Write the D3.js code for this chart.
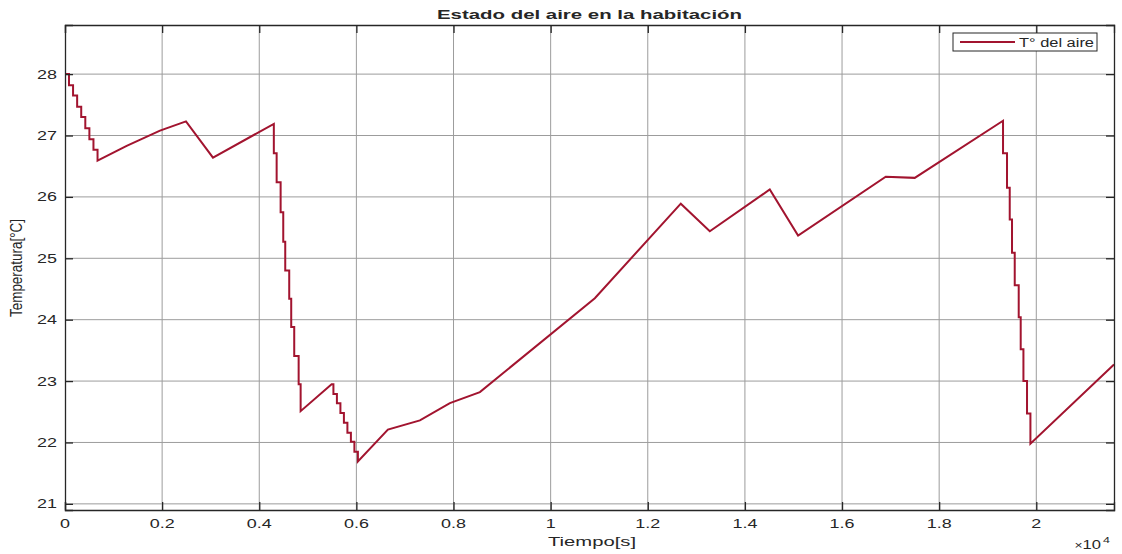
<!DOCTYPE html>
<html>
<head>
<meta charset="utf-8">
<script src="https://cdn.jsdelivr.net/npm/d3@7"></script>
<style>
  html, body { margin: 0; padding: 0; background: #fff; }
  svg { display: block; }
  text { font-family: "Liberation Sans", Arial, Helvetica, sans-serif; fill: #262626; }
</style>
</head>
<body>
<svg id="chart" width="1122" height="554"></svg>
<script>
// Air temperature in the room over time (s); vertices of the simulated trace.
const timeS = [
  0, 82, 82, 166, 166, 250, 250, 334, 334, 418, 418, 502, 502, 586, 586, 670, 670,
  1270, 1956, 2491, 3047, 4300,
  4300, 4358, 4358, 4440, 4440, 4494, 4494, 4535, 4535, 4617, 4617, 4658, 4658, 4720, 4720, 4811, 4811, 4852, 4852,
  5490,
  5527, 5527, 5599, 5599, 5671, 5671, 5743, 5743, 5815, 5815, 5887, 5887, 5959, 5959, 6031, 6031,
  6649, 7308, 7925, 8543, 10910, 12680, 13277, 14512, 15095, 16900, 17497, 19315,
  19315, 19397, 19397, 19453, 19453, 19500, 19500, 19556, 19556, 19638, 19638, 19679, 19679, 19735, 19735, 19809, 19809, 19879, 19879,
  21600
];
const tempC = [
  28.00, 28.00, 27.82, 27.82, 27.65, 27.65, 27.47, 27.47, 27.30, 27.30, 27.12, 27.12, 26.94, 26.94, 26.77, 26.77, 26.59,
  26.83, 27.08, 27.23, 26.64, 27.19,
  26.71, 26.71, 26.24, 26.24, 25.75, 25.75, 25.27, 25.27, 24.80, 24.80, 24.34, 24.34, 23.88, 23.88, 23.41, 23.41, 22.95, 22.95, 22.51,
  22.95,
  22.95, 22.79, 22.79, 22.64, 22.64, 22.48, 22.48, 22.32, 22.32, 22.16, 22.16, 22.01, 22.01, 21.85, 21.85, 21.69,
  22.21, 22.36, 22.64, 22.82, 24.35, 25.89, 25.44, 26.12, 25.37, 26.33, 26.31, 27.24,
  26.71, 26.71, 26.15, 26.15, 25.63, 25.63, 25.09, 25.09, 24.56, 24.56, 24.04, 24.04, 23.52, 23.52, 23.00, 23.00, 22.47, 22.47, 21.98,
  23.27
];
const xTicks = [0, 2000, 4000, 6000, 8000, 10000, 12000, 14000, 16000, 18000, 20000];
const yTicks = [21, 22, 23, 24, 25, 26, 27, 28];
const xDomain = [0, 21600];
const yDomain = [20.9, 28.8];
const seriesName = "T° del aire";
const titleText = "Estado del aire en la habitación";
const xLabel = "Tiempo[s]";
const yLabel = "Temperatura[°C]";

const data = timeS.map((t, i) => ({ t, T: tempC[i] }));

const svg = d3.select("#chart");
const plotL = 65, plotR = 1114, plotT = 25, plotB = 510;
const stretch = 1.38;
const axisColor = "#262626";
const gridColor = "#9c9c9c";
const lineColor = "#A2142F";

const x = d3.scaleLinear().domain(xDomain).range([plotL, plotR]);
const y = d3.scaleLinear().domain(yDomain).range([plotB, plotT]);

// grid
const grid = svg.append("g");
grid.selectAll("line.gx").data(xTicks.filter(d => d > 0)).join("line")
  .attr("class", "gx")
  .attr("x1", d => x(d)).attr("x2", d => x(d))
  .attr("y1", plotT).attr("y2", plotB)
  .attr("stroke", gridColor).attr("stroke-width", 1);
grid.selectAll("line.gy").data(yTicks).join("line")
  .attr("class", "gy")
  .attr("x1", plotL).attr("x2", plotR)
  .attr("y1", d => y(d)).attr("y2", d => y(d))
  .attr("stroke", gridColor).attr("stroke-width", 1);

// data line
const line = d3.line().x(d => x(d.t)).y(d => y(d.T));
svg.append("path").datum(data)
  .attr("d", line)
  .attr("fill", "none")
  .attr("stroke", lineColor)
  .attr("stroke-width", 2)
  .attr("stroke-linejoin", "miter");

// axes (inward ticks on all four sides, box)
const tickLen = 8;
const xFmt = d => d3.format("~g")(d / 1e4);
const axB = d3.axisBottom(x).tickValues(xTicks).tickSize(-tickLen).tickFormat("");
const axT = d3.axisTop(x).tickValues(xTicks).tickSize(-tickLen).tickFormat("");
const axL = d3.axisLeft(y).tickValues(yTicks).tickSize(-tickLen).tickFormat("");
const axR = d3.axisRight(y).tickValues(yTicks).tickSize(-tickLen).tickFormat("");
function styleAxis(g) {
  g.selectAll("path.domain").attr("stroke", axisColor).attr("stroke-width", 1.3);
  g.selectAll(".tick line").attr("stroke", axisColor).attr("stroke-width", 1.3);
}
svg.append("g").attr("transform", `translate(0,${plotB})`).call(axB).call(styleAxis);
svg.append("g").attr("transform", `translate(0,${plotT})`).call(axT).call(styleAxis);
svg.append("g").attr("transform", `translate(${plotL},0)`).call(axL).call(styleAxis);
svg.append("g").attr("transform", `translate(${plotR},0)`).call(axR).call(styleAxis);

// tick labels
svg.append("g").selectAll("text").data(xTicks).join("text")
  .attr("transform", d => `translate(${x(d)},528) scale(${stretch},1)`)
  .attr("text-anchor", "middle")
  .attr("font-size", 13)
  .text(xFmt);
svg.append("g").selectAll("text").data(yTicks).join("text")
  .attr("transform", d => `translate(57,${y(d) + 4.6}) scale(${stretch},1)`)
  .attr("text-anchor", "end")
  .attr("font-size", 13)
  .text(d => d);

// exponent note
const ex = svg.append("text")
  .attr("transform", `translate(1101,549) scale(${stretch},1)`)
  .attr("text-anchor", "end")
  .attr("font-size", 12);
ex.append("tspan").attr("font-size", 10).text("×");
ex.append("tspan").text("10");
svg.append("text")
  .attr("transform", `translate(1103,543) scale(${stretch},1)`)
  .attr("font-size", 9)
  .text("4");

// title and axis labels
svg.append("text")
  .attr("x", 589.5).attr("y", 19)
  .attr("text-anchor", "middle")
  .attr("font-size", 13).attr("font-weight", "bold")
  .attr("textLength", 305).attr("lengthAdjust", "spacingAndGlyphs")
  .text(titleText);
svg.append("text")
  .attr("x", 592).attr("y", 546)
  .attr("text-anchor", "middle")
  .attr("font-size", 13)
  .attr("textLength", 88).attr("lengthAdjust", "spacingAndGlyphs")
  .text(xLabel);
svg.append("text")
  .attr("transform", `translate(22,268) scale(${stretch},1) rotate(-90)`)
  .attr("text-anchor", "middle")
  .attr("font-size", 12.5)
  .attr("textLength", 98).attr("lengthAdjust", "spacingAndGlyphs")
  .text(yLabel);

// legend
const lg = svg.append("g");
lg.append("rect")
  .attr("x", 953).attr("y", 33).attr("width", 144).attr("height", 18)
  .attr("fill", "#fff").attr("stroke", axisColor).attr("stroke-width", 1);
lg.append("line")
  .attr("x1", 960).attr("x2", 1015).attr("y1", 42).attr("y2", 42)
  .attr("stroke", lineColor).attr("stroke-width", 2);
lg.append("text")
  .attr("x", 1019).attr("y", 46.5)
  .attr("font-size", 12)
  .attr("textLength", 75).attr("lengthAdjust", "spacingAndGlyphs")
  .text(seriesName);
</script>
</body>
</html>
